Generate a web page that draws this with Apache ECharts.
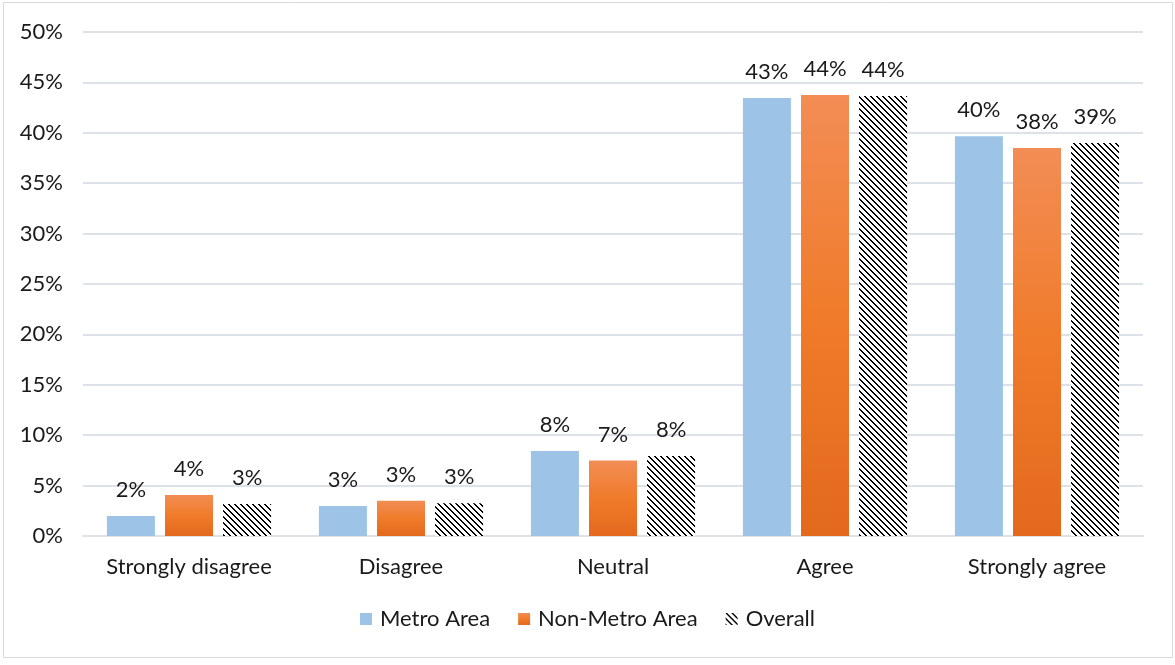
<!DOCTYPE html>
<html>
<head>
<meta charset="utf-8">
<style>
  html, body { margin: 0; padding: 0; background: #ffffff; }
  #chart { width: 1175px; height: 665px; }
</style>
<script src="https://cdn.jsdelivr.net/npm/echarts@6/dist/echarts.min.js"></script>
</head>
<body>
<div id="chart"></div>
<script>
// Survey responses by area type (share of respondents, %)
const categories = ['Strongly disagree', 'Disagree', 'Neutral', 'Agree', 'Strongly agree'];
const metroArea = [1.98, 2.98, 8.43, 43.45, 39.65];
const nonMetroArea = [4.07, 3.49, 7.49, 43.75, 38.49];
const overall = [3.17, 3.24, 7.94, 43.65, 39.0];
const seriesNames = ['Metro Area', 'Non-Metro Area', 'Overall'];

const FONT = 'Lato, "Open Sans", sans-serif';
const FONT_SIZE = 22;
const TEXT_COLOR = '#1a1a1a';

// Diagonal hatch tile (downward stripes) for the "Overall" series
function hatchTile() {
  const c = document.createElement('canvas');
  c.width = 6; c.height = 6;
  const ctx = c.getContext('2d');
  ctx.fillStyle = '#ffffff';
  ctx.fillRect(0, 0, 6, 6);
  ctx.fillStyle = '#000000';
  for (let y = 0; y < 6; y++) {
    for (let x = 0; x < 6; x++) {
      const d = ((x - y) % 6 + 6) % 6;
      if (d === 0 || d === 1) ctx.fillRect(x, y, 1, 1);
    }
  }
  return c;
}
const hatch = { image: hatchTile(), repeat: 'repeat' };

const orangeGradient = new echarts.graphic.LinearGradient(0, 0, 0, 1, [
  { offset: 0, color: '#F28D55' },
  { offset: 0.5, color: '#F07B2A' },
  { offset: 1, color: '#E3691C' }
]);

const labelCfg = {
  show: true,
  position: 'top',
  distance: 15,
  color: TEXT_COLOR,
  fontFamily: FONT,
  fontSize: FONT_SIZE,
  formatter: p => Math.round(p.value) + '%'
};

const chart = echarts.init(document.getElementById('chart'), null, { renderer: 'canvas' });

chart.setOption({
  animation: false,
  backgroundColor: '#ffffff',
  grid: { left: 83, right: 32, top: 32, bottom: 129, containLabel: false },
  legend: {
    bottom: 30,
    left: 'center',
    itemWidth: 12,
    itemHeight: 12,
    itemGap: 28,
    textStyle: {
      fontFamily: FONT, fontSize: FONT_SIZE, color: TEXT_COLOR,
      padding: [0, 0, 0, 3]
    },
    data: [
      { name: seriesNames[0], icon: 'rect' },
      { name: seriesNames[1], icon: 'rect' },
      { name: seriesNames[2], icon: 'rect' }
    ]
  },
  xAxis: {
    type: 'category',
    data: categories,
    axisLine: { show: true, lineStyle: { color: '#DDE2E9', width: 2 } },
    axisTick: { show: false },
    axisLabel: {
      interval: 0,
      fontFamily: FONT, fontSize: FONT_SIZE, color: TEXT_COLOR, margin: 20
    }
  },
  yAxis: {
    type: 'value',
    min: 0,
    max: 50,
    interval: 5,
    axisLine: { show: false },
    axisTick: { show: false },
    splitLine: { lineStyle: { color: '#DDE2E9', width: 2 } },
    axisLabel: {
      fontFamily: FONT, fontSize: FONT_SIZE, color: TEXT_COLOR, margin: 20,
      formatter: v => v + '%'
    }
  },
  series: [
    {
      name: seriesNames[0], type: 'bar', data: metroArea,
      barWidth: 48, barGap: '21%',
      itemStyle: { color: '#9DC3E6' },
      label: labelCfg
    },
    {
      name: seriesNames[1], type: 'bar', data: nonMetroArea,
      barWidth: 48, barGap: '21%',
      itemStyle: { color: orangeGradient },
      label: labelCfg
    },
    {
      name: seriesNames[2], type: 'bar', data: overall,
      barWidth: 48, barGap: '21%',
      itemStyle: { color: hatch },
      label: labelCfg
    }
  ],
  graphic: [
    {
      type: 'rect',
      shape: { x: 3.5, y: 2.5, width: 1169, height: 655 },
      style: { fill: 'none', stroke: '#D9D9D9', lineWidth: 1 },
      silent: true,
      z: -1
    }
  ]
});
</script>
</body>
</html>
